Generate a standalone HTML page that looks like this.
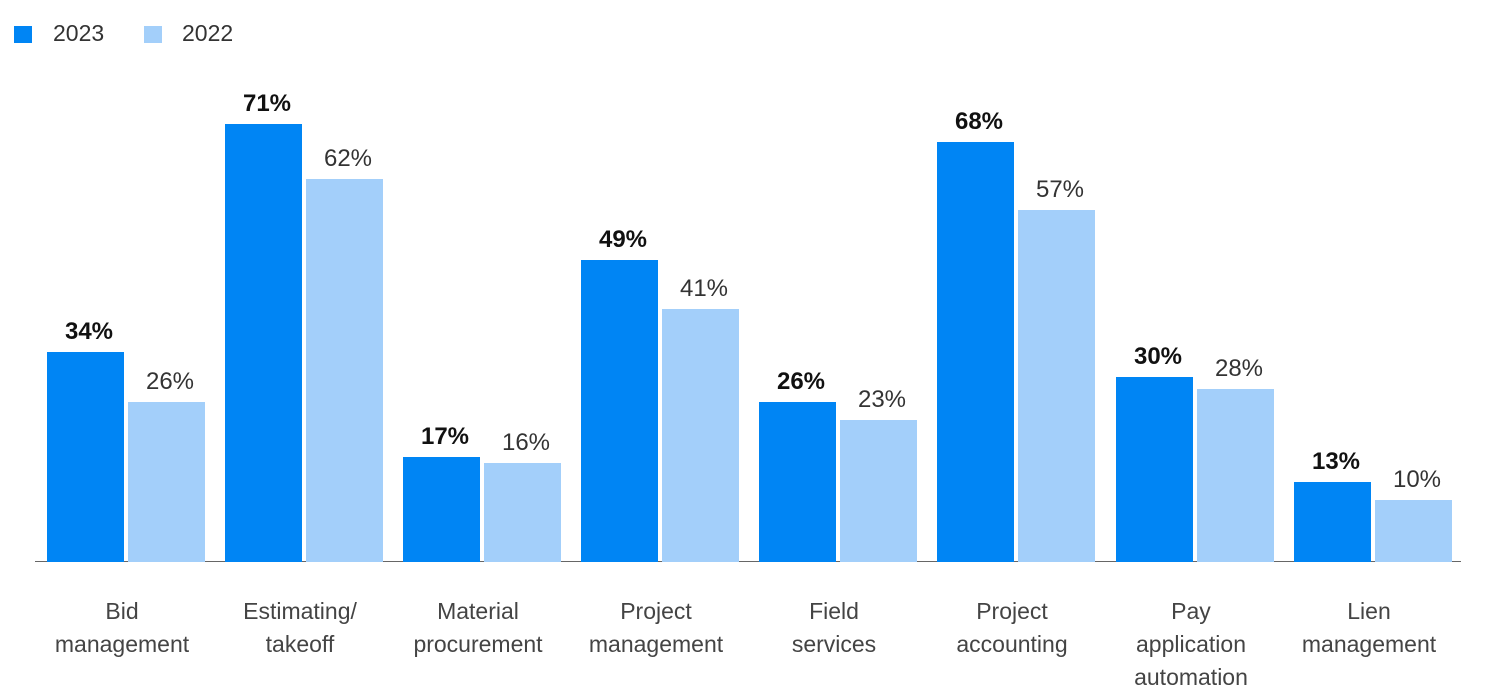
<!DOCTYPE html>
<html><head><meta charset="utf-8"><style>
body{margin:0;width:1495px;height:691px;background:#fff;position:relative;overflow:hidden;font-family:"Liberation Sans",sans-serif;}
.b{position:absolute;width:77px;}
.d{background:#0085f4;}
.l{background:#a3cffa;}
.v{position:absolute;width:110px;text-align:center;font-size:24px;line-height:26px;}
.vd{font-weight:bold;color:#111;}
.vl{color:#333;}
.c{position:absolute;width:178px;text-align:center;font-size:23px;line-height:33px;color:#444;top:595px;}
.sq{position:absolute;width:18px;height:17px;top:26px;}
.lt{position:absolute;top:20px;font-size:23px;color:#333;}
</style></head><body>
<div class="sq d" style="left:14px"></div><div class="lt" style="left:53px">2023</div>
<div class="sq l" style="left:144px"></div><div class="lt" style="left:182px">2022</div>
<div style="position:absolute;left:35px;top:561px;width:1426px;height:1px;background:#666"></div>
<div id="g"></div>
<script>
var data=[["Bid<br>management",34,26],["Estimating/<br>takeoff",71,62],["Material<br>procurement",17,16],["Project<br>management",49,41],["Field<br>services",26,23],["Project<br>accounting",68,57],["Pay<br>application<br>automation",30,28],["Lien<br>management",13,10]];
var xs=[47,225,403,581,759,937,1116,1294],h="";
data.forEach(function(d,i){var x=xs[i];
var h1=Math.round(d[1]*6.17),h2=Math.round(d[2]*6.17);
h+='<div class="b d" style="left:'+x+'px;top:'+(562-h1)+'px;height:'+h1+'px"></div>';
h+='<div class="b l" style="left:'+(x+81)+'px;top:'+(562-h2)+'px;height:'+h2+'px"></div>';
h+='<div class="v vd" style="left:'+(x-13)+'px;top:'+(562-h1-33)+'px">'+d[1]+'%</div>';
h+='<div class="v vl" style="left:'+(x+68)+'px;top:'+(562-h2-33)+'px">'+d[2]+'%</div>';
h+='<div class="c" style="left:'+(x-14)+'px">'+d[0]+'</div>';});
document.getElementById('g').innerHTML=h;
</script>
</body></html>
